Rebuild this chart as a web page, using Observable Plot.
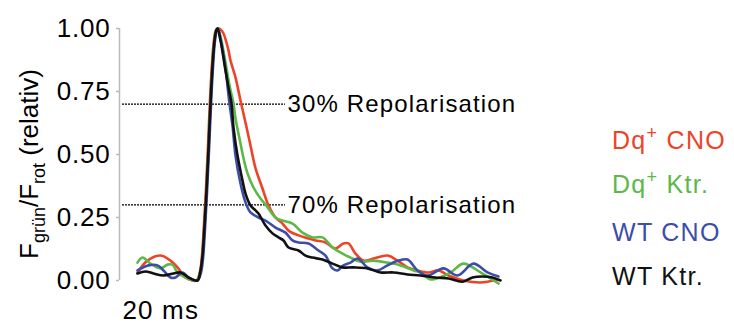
<!DOCTYPE html>
<html><head><meta charset="utf-8">
<script src="https://cdn.jsdelivr.net/npm/d3@7"></script>
<script src="https://cdn.jsdelivr.net/npm/@observablehq/plot@0.6"></script>
<style>
html,body{margin:0;padding:0;background:#fff;}
#chart svg{display:block;}
</style>
</head><body><div id="chart"></div>
<script>
// Series names and colours
const seriesNames = ["Dq+ CNO", "Dq+ Ktr.", "WT CNO", "WT Ktr."];
const seriesColors = ["#ee4327", "#5cb946", "#3c4ea6", "#111111"];

// Time (ms) and normalised fluorescence values per series
const dqCnoT = [0,5,11.5,16.5,20,24,27.5,29.5,31.15,32.15,33.15,34.15,35.15,36.15,37.15,38.15,39.15,40.25,41.5,43,45.5,46.5,49,51.5,54,56.5,59,62.5,65.5,69,72.5,75.5,80.5,85.5,89,94,99,103,105.5,109,113,118,125,130,135,140,145.5,150.5,155.5,163,171.5,180];
const dqCnoV = [0.032,0.079,0.099,0.079,0.052,0.012,0,0,0.032,0.091,0.21,0.349,0.516,0.698,0.849,0.948,0.992,1.0,0.996,0.98,0.913,0.873,0.806,0.714,0.627,0.536,0.446,0.365,0.298,0.25,0.226,0.198,0.179,0.167,0.159,0.151,0.127,0.147,0.147,0.107,0.079,0.087,0.099,0.079,0.052,0.04,0.032,0.04,0.02,0,-0.008,0.004];

const dqKtrT = [0,2.5,6.5,11.5,15,17.5,20,24,29.5,31.5,32.5,33.5,34.5,35.5,36.5,37.5,38.5,39.5,40,41.5,44,46,48,49,51.5,52.5,55,58,61.5,64,69,72.5,77.5,82.5,87.5,92.5,97.5,102.5,106.5,111.5,118,125,131.5,138,141.5,146.5,156.5,163,171.5,180.5];
const dqKtrV = [0.071,0.091,0.067,0.048,0.063,0.063,0.032,0.012,0,0.036,0.095,0.214,0.353,0.52,0.702,0.849,0.952,0.996,1.0,0.968,0.865,0.774,0.702,0.643,0.544,0.504,0.425,0.369,0.325,0.302,0.25,0.238,0.226,0.19,0.171,0.171,0.131,0.107,0.091,0.075,0.079,0.071,0.06,0.04,0.032,0.004,0.032,0.067,0.032,-0.012];

const wtCnoT = [0,5.5,10,13,16.5,19,22.5,25.5,30,31.75,32.75,33.75,34.75,35.75,36.75,37.75,38.75,39.75,40.25,41.5,44,46,47.5,49,51.5,54,56.5,60.5,64,69,74,77.5,80.5,85.5,90.5,94,97.5,100,103,106.5,110,115,120,125,130.5,135,140,145,153,160,168,175,180.5];
const wtCnoV = [0.04,0.06,0.06,0.04,0.012,0.012,0.032,0.012,0,0.032,0.087,0.206,0.349,0.516,0.698,0.849,0.952,0.996,1.0,0.96,0.841,0.702,0.615,0.496,0.385,0.31,0.27,0.25,0.238,0.21,0.19,0.159,0.151,0.147,0.119,0.099,0.048,0.04,0.06,0.071,0.087,0.052,0.04,0.06,0.079,0.083,0.04,0.02,0.048,0.02,0.067,0.032,0.016];

const wtKtrT = [0,4,8,13,18,21.5,25.5,30,31.5,32.5,33.5,34.5,35.5,36.5,37.5,38.5,39.5,40,41.5,44,45.5,47,48,50,52.5,54,56.5,59,60.5,64,67.5,70.5,73,75.5,80.5,84,87.5,92.5,97.5,102.5,108,115,121.5,128,135,141.5,149,155.5,162.5,167.5,172.5,177.5,181.5];
const wtKtrV = [0.028,0.036,0.028,0.02,0.028,0.032,0.012,0,0.04,0.099,0.218,0.357,0.524,0.706,0.853,0.952,0.996,1.0,0.952,0.833,0.766,0.702,0.607,0.496,0.397,0.345,0.298,0.278,0.266,0.218,0.187,0.171,0.159,0.131,0.119,0.099,0.091,0.083,0.067,0.052,0.052,0.048,0.032,0.032,0.024,0.02,0.012,0.008,-0.005,0.012,0.016,0.012,0];

// Y ticks
const yTicks = [0, 0.25, 0.5, 0.75, 1];

// Repolarisation reference levels
const repolLevels = [0.70, 0.30];
const repolLabels = ["30% Repolarisation", "70% Repolarisation"];
const repolStart = -7.5, repolEnd = 74;

// Time scale label
const scaleLabel = "20 ms";
const scaleLabelX = -7.5;

const seriesT = [dqCnoT, dqKtrT, wtCnoT, wtKtrT];
const seriesV = [dqCnoV, dqKtrV, wtCnoV, wtKtrV];
const rows = seriesNames.flatMap((s, i) => seriesT[i].map((t, j) => ({series: s, t, v: seriesV[i][j]})));
const repol = repolLevels.map((v, i) => ({v, label: repolLabels[i]}));

const FONT = "'Liberation Sans', Arial, Helvetica, sans-serif";

const chart = Plot.plot({
  width: 734, height: 324,
  marginLeft: 119, marginRight: 234, marginTop: 28, marginBottom: 44,
  style: {fontFamily: FONT, background: "#fff"},
  x: {domain: [-9, 181.5], axis: null},
  y: {domain: [0, 1], axis: null},
  color: {domain: seriesNames, range: seriesColors},
  marks: [
    Plot.axisY({ticks: yTicks, tickFormat: d3.format(".2f"), tickSize: 3, tickPadding: 6,
      stroke: "#b9b9be", strokeWidth: 1.5, fill: "#000", fontSize: 26, label: null}),
    Plot.ruleX([-9], {y1: 0, y2: 1, stroke: "#b9b9be", strokeWidth: 1.5}),
    Plot.ruleY(repol, {y: "v", x1: repolStart, x2: repolEnd, stroke: "#000", strokeWidth: 1.1, strokeDasharray: "2,1"}),
    Plot.text(repol, {y: "v", x: repolEnd, text: "label", textAnchor: "start", dx: 2, fontSize: 24, fill: "#000"}),
    Plot.text([scaleLabel], {x: scaleLabelX, frameAnchor: "bottom", text: d => d, textAnchor: "start", lineAnchor: "bottom", dy: 38, fontSize: 26, fill: "#000"}),
    Plot.line(rows, {x: "t", y: "v", z: "series", stroke: "series", strokeWidth: 2.6, curve: "catmull-rom"})
  ]
});
document.getElementById("chart").appendChild(chart);

const svg = d3.select(chart);
// letter spacing to mimic the wider original typeface
svg.selectAll("g[aria-label='y-axis tick label'] text").attr("letter-spacing", 0.8);
svg.selectAll("g[aria-label='text'] text").attr("letter-spacing", 1.15);

// Y-axis label with subscripts
const yl = svg.append("text")
  .attr("transform", "translate(38,164) rotate(-90)")
  .attr("text-anchor", "middle")
  .attr("font-family", FONT).attr("font-size", 26).attr("fill", "#000");
yl.append("tspan").text("F");
yl.append("tspan").attr("font-size", 18).attr("dy", 7).text("grün");
yl.append("tspan").attr("dy", -7).text("/F");
yl.append("tspan").attr("font-size", 18).attr("dy", 7).text("rot");
yl.append("tspan").attr("dy", -7).text(" (relativ)");

// Legend with superscripts
const legendY = [149, 193, 241, 285];
seriesNames.forEach((name, i) => {
  const t = svg.append("text").attr("x", 612).attr("y", legendY[i])
    .attr("text-anchor", "start").attr("letter-spacing", 1.3)
    .attr("font-family", FONT).attr("font-size", 25).attr("fill", seriesColors[i]);
  if (name.includes("+")) {
    const [a, b] = name.split("+");
    t.append("tspan").text(a);
    t.append("tspan").attr("font-size", 18).attr("dy", -10).text("+");
    t.append("tspan").attr("dy", 10).text(b);
  } else {
    t.text(name);
  }
});
</script>
</body></html>
